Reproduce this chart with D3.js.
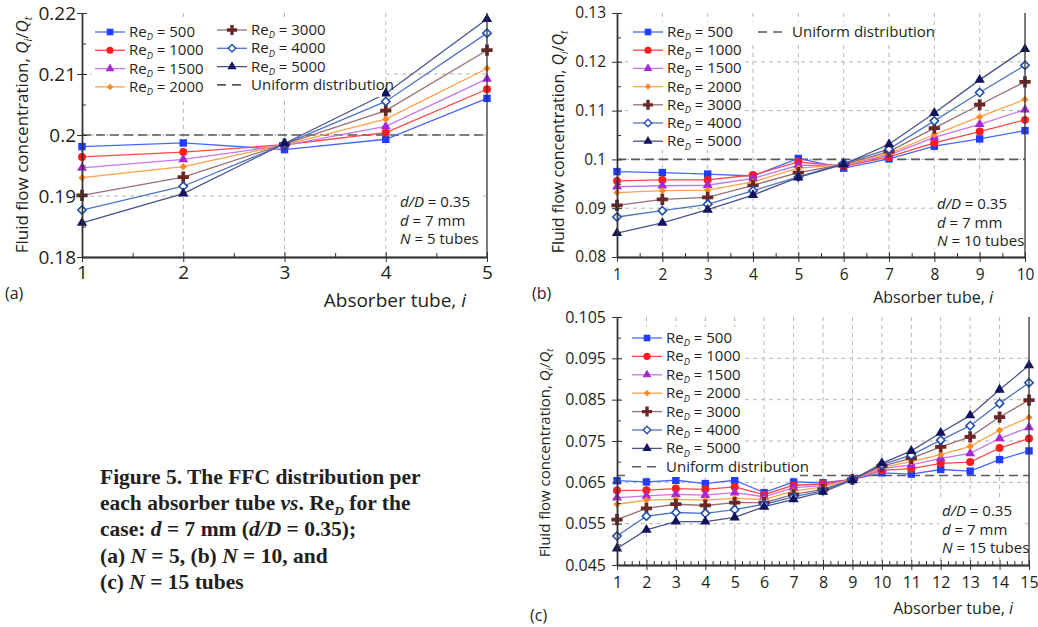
<!DOCTYPE html>
<html>
<head>
<meta charset="utf-8">
<script src="https://cdn.jsdelivr.net/npm/d3@7"></script>
<style>
body { margin: 0; background: #fff; }
text { font-family: "Open Sans", sans-serif; fill: #231f20; }
</style>
</head>
<body>
<script>
// values
var reynolds = [500, 1000, 1500, 2000, 3000, 4000, 5000];

var tubesA = [1, 2, 3, 4, 5];
var ffcA = [
  [0.1981, 0.1987, 0.1976, 0.1993, 0.2060],
  [0.1964, 0.1972, 0.1984, 0.2004, 0.2075],
  [0.1946, 0.1960, 0.1983, 0.2014, 0.2092],
  [0.1930, 0.1948, 0.1984, 0.2026, 0.2109],
  [0.1901, 0.1931, 0.1985, 0.2040, 0.2139],
  [0.1877, 0.1916, 0.1985, 0.2055, 0.2167],
  [0.1856, 0.1904, 0.1986, 0.2068, 0.2190]
];

var tubesB = [1, 2, 3, 4, 5, 6, 7, 8, 9, 10];
var ffcB = [
  [0.0975, 0.0973, 0.0970, 0.0966, 0.1002, 0.0982, 0.1001, 0.1027, 0.1042, 0.1059],
  [0.0956, 0.0958, 0.0958, 0.0968, 0.0995, 0.0986, 0.1005, 0.1034, 0.1057, 0.1081],
  [0.0944, 0.0946, 0.0947, 0.0961, 0.0988, 0.0988, 0.1009, 0.1045, 0.1072, 0.1102],
  [0.0932, 0.0936, 0.0937, 0.0954, 0.0982, 0.0989, 0.1012, 0.1051, 0.1087, 0.1123],
  [0.0906, 0.0918, 0.0922, 0.0947, 0.0973, 0.0990, 0.1016, 0.1064, 0.1112, 0.1159],
  [0.0882, 0.0895, 0.0908, 0.0936, 0.0964, 0.0992, 0.1021, 0.1079, 0.1137, 0.1193],
  [0.0849, 0.0870, 0.0897, 0.0927, 0.0963, 0.0990, 0.1031, 0.1095, 0.1163, 0.1226]
];

var tubesC = [1, 2, 3, 4, 5, 6, 7, 8, 9, 10, 11, 12, 13, 14, 15];
var ffcC = [
  [0.0654, 0.0651, 0.0655, 0.0647, 0.0655, 0.0625, 0.0651, 0.0649, 0.0657, 0.0673, 0.0670, 0.0681, 0.0677, 0.0705, 0.0726],
  [0.0630, 0.0631, 0.0635, 0.0633, 0.0639, 0.0620, 0.0643, 0.0646, 0.0657, 0.0679, 0.0683, 0.0696, 0.0699, 0.0733, 0.0756],
  [0.0613, 0.0617, 0.0621, 0.0619, 0.0625, 0.0615, 0.0637, 0.0642, 0.0657, 0.0683, 0.0692, 0.0708, 0.0720, 0.0756, 0.0783],
  [0.0597, 0.0607, 0.0609, 0.0607, 0.0611, 0.0609, 0.0629, 0.0639, 0.0657, 0.0686, 0.0700, 0.0717, 0.0737, 0.0776, 0.0807],
  [0.0560, 0.0587, 0.0597, 0.0594, 0.0601, 0.0601, 0.0621, 0.0633, 0.0657, 0.0689, 0.0708, 0.0736, 0.0760, 0.0808, 0.0849],
  [0.0520, 0.0568, 0.0577, 0.0575, 0.0584, 0.0597, 0.0615, 0.0630, 0.0657, 0.0693, 0.0716, 0.0752, 0.0787, 0.0841, 0.0891],
  [0.0490, 0.0535, 0.0555, 0.0555, 0.0565, 0.0591, 0.0609, 0.0627, 0.0655, 0.0696, 0.0726, 0.0770, 0.0812, 0.0874, 0.0933]
];

var yTicksA = [0.18, 0.19, 0.2, 0.21, 0.22];
var yTicksB = [0.08, 0.09, 0.1, 0.11, 0.12, 0.13];
var yTicksC = [0.045, 0.055, 0.065, 0.075, 0.085, 0.095, 0.105];

var markerColors = ['#1f3cff', '#ff1c1c', '#a626d8', '#ff8a1f', '#6b2626', '#1f4fae', '#12125e'];
var lineColors = ['#4a66ff', '#ff4646', '#c774ee', '#ffa047', '#9a6e6e', '#4f74c2', '#4b5386'];
var shapes = [d3.symbolSquare, d3.symbolCircle, d3.symbolTriangle, d3.symbolDiamond2,
              d3.symbolCross, d3.symbolDiamond2, d3.symbolTriangle];
var sizes = [55, 50, 42, 34, 70, 44, 46];

var svg = d3.select("body").append("svg")
  .attr("width", 1038)
  .attr("height", 627);

// text with italic / subscript parts, subscript shift is undone on the next part
function rich(sel, parts, size) {
  var back = 0;
  parts.forEach(function(p) {
    var t = sel.append("tspan").text(p[0]);
    if (back) { t.attr("dy", back); back = 0; }
    if (p[1] == "i") t.style("font-style", "italic");
    if (p[1] == "is") {
      t.style("font-style", "italic").attr("font-size", size * 0.62).attr("dy", size * 0.22);
      back = -size * 0.22;
    }
  });
}

function drawPanel(p) {
  var g = svg.append("g");
  var x = d3.scaleLinear().domain([1, p.tubes.length]).range([p.left, p.right]);
  var y = d3.scaleLinear().domain([p.yTicks[0], p.yTicks[p.yTicks.length - 1]]).range([p.bottom, p.top]);

  // grid
  g.selectAll(".vg").data(p.tubes.slice(1, -1)).enter().append("line")
    .attr("x1", function(d) { return x(d) }).attr("x2", function(d) { return x(d) })
    .attr("y1", p.top).attr("y2", p.bottom)
    .attr("stroke", "#b4b4b4").attr("stroke-dasharray", "4,4");
  g.selectAll(".hg").data(p.yTicks.slice(1, -1)).enter().append("line")
    .attr("x1", p.left).attr("x2", p.right)
    .attr("y1", function(d) { return y(d) }).attr("y2", function(d) { return y(d) })
    .attr("stroke", "#b4b4b4").attr("stroke-dasharray", "4,4");

  // uniform distribution
  g.append("line")
    .attr("x1", p.left).attr("x2", p.right)
    .attr("y1", y(p.uniform)).attr("y2", y(p.uniform))
    .attr("stroke", "#5a5a5a").attr("stroke-width", 1.6).attr("stroke-dasharray", "9,5");

  var line = d3.line()
    .x(function(d, i) { return x(p.tubes[i]) })
    .y(function(d) { return y(d) });

  p.ffc.forEach(function(vals, k) {
    g.append("path").datum(vals)
      .attr("d", line)
      .attr("fill", "none")
      .attr("stroke", lineColors[k])
      .attr("stroke-width", 1.3);
  });
  p.ffc.forEach(function(vals, k) {
    g.selectAll(".m" + k).data(vals).enter().append("path")
      .attr("transform", function(d, i) { return "translate(" + x(p.tubes[i]) + "," + y(d) + ")" })
      .attr("d", d3.symbol().type(shapes[k]).size(sizes[k]))
      .attr("fill", k == 5 ? "#fff" : markerColors[k])
      .attr("stroke", k == 5 ? markerColors[k] : "none")
      .attr("stroke-width", 1.6);
  });

  // legend
  p.legendBoxes.forEach(function(b) {
    g.append("rect").attr("x", b[0]).attr("y", b[1]).attr("width", b[2]).attr("height", b[3]).attr("fill", "#fff");
  });
  p.legend.forEach(function(col) {
    col.items.forEach(function(k, j) {
      var ly = col.y + j * col.dy;
      if (k == "u") {
        g.append("line").attr("x1", col.x).attr("x2", col.x + 27).attr("y1", ly).attr("y2", ly)
          .attr("stroke", "#5a5a5a").attr("stroke-width", 1.6).attr("stroke-dasharray", "9,6");
        g.append("text").attr("x", col.x + 34).attr("y", ly + 5).attr("font-size", 15)
          .text("Uniform distribution");
        return;
      }
      g.append("line").attr("x1", col.x).attr("x2", col.x + 30).attr("y1", ly).attr("y2", ly)
        .attr("stroke", lineColors[k]).attr("stroke-width", 1.3);
      g.append("path").attr("transform", "translate(" + (col.x + 15) + "," + ly + ")")
        .attr("d", d3.symbol().type(shapes[k]).size(sizes[k] * 0.8))
        .attr("fill", k == 5 ? "#fff" : markerColors[k])
        .attr("stroke", k == 5 ? markerColors[k] : "none").attr("stroke-width", 1.4);
      var t = g.append("text").attr("x", col.x + 34).attr("y", ly + 5).attr("font-size", 15);
      rich(t, [["Re"], ["D", "is"], [" = " + reynolds[k]]], 15);
    });
  });

  // case annotation
  g.append("rect").attr("x", p.note[0] - 3).attr("y", p.note[1] - 17).attr("width", 86).attr("height", 56).attr("fill", "#fff");
  var notes = [[["d/D", "i"], [" = 0.35"]], [["d", "i"], [" = 7 mm"]], [["N", "i"], [" = " + p.tubes.length + " tubes"]]];
  notes.forEach(function(n, j) {
    var t = g.append("text").attr("x", p.note[0]).attr("y", p.note[1] + j * 18.5).attr("font-size", 15);
    rich(t, n, 15);
  });

  // axes
  var yfmt = function(d) { return String(+d.toFixed(3)) };
  var minorY = d3.range(p.yTicks[0] + (p.yTicks[1] - p.yTicks[0]) / 2, p.yTicks[p.yTicks.length - 1], p.yTicks[1] - p.yTicks[0]);
  var minorX = d3.range(1, p.tubes.length, p.minorStep).filter(function(d) { return d % 1 != 0 });

  var ya = g.append("g").attr("transform", "translate(" + p.left + ",0)")
    .call(d3.axisLeft(y).tickValues(p.yTicks).tickFormat(yfmt).tickSize(5).tickSizeOuter(0).tickPadding(p.yPad));
  g.append("g").attr("transform", "translate(" + p.left + ",0)")
    .call(d3.axisLeft(y).tickValues(p.yTicks).tickFormat("").tickSize(-5).tickSizeOuter(0));
  g.append("g").attr("transform", "translate(" + p.left + ",0)")
    .call(d3.axisLeft(y).tickValues(minorY).tickFormat("").tickSize(-4).tickSizeOuter(0));

  var xa = g.append("g").attr("transform", "translate(0," + p.bottom + ")")
    .call(d3.axisBottom(x).tickValues(p.tubes).tickFormat(d3.format("d")).tickSize(5).tickSizeOuter(0).tickPadding(p.xPad));
  g.append("g").attr("transform", "translate(0," + p.bottom + ")")
    .call(d3.axisBottom(x).tickValues(p.tubes).tickFormat("").tickSize(-5).tickSizeOuter(0));
  g.append("g").attr("transform", "translate(0," + p.bottom + ")")
    .call(d3.axisBottom(x).tickValues(minorX).tickFormat("").tickSize(-4).tickSizeOuter(0));

  g.append("line").attr("x1", p.right).attr("x2", p.right).attr("y1", p.top).attr("y2", p.bottom)
    .attr("stroke", "#333").attr("stroke-width", 1.3);

  g.selectAll(".domain").attr("stroke", "#333").attr("stroke-width", 1.3);
  g.selectAll(".tick line").attr("stroke", "#333");
  g.selectAll(".tick text").filter(function() { return this.textContent == "" }).remove();
  ya.selectAll("text").attr("font-size", p.tickFont).attr("font-family", "Open Sans").attr("fill", "#231f20");
  xa.selectAll("text").attr("font-size", p.tickFont).attr("font-family", "Open Sans").attr("fill", "#231f20");

  // axis titles
  var yt = g.append("text")
    .attr("transform", "translate(" + p.yTitle[0] + "," + p.yTitle[1] + ") rotate(-90)")
    .attr("text-anchor", "middle").attr("font-size", p.yTitleFont);
  rich(yt, [["Fluid flow concentration, "], ["Q", "i"], ["i", "is"], ["/"], ["Q", "i"], ["t", "is"]], p.yTitleFont);

  var xt = g.append("text").attr("x", p.xTitle[0]).attr("y", p.xTitle[1])
    .attr("text-anchor", "end").attr("font-size", p.xTitleFont);
  rich(xt, [["Absorber tube, "], ["i", "i"]], p.xTitleFont);

  g.append("text").attr("x", p.tag[0]).attr("y", p.tag[1]).attr("font-size", 16).text("(" + p.id + ")");
}

drawPanel({
  id: "a", tubes: tubesA, ffc: ffcA, uniform: 1 / 5, yTicks: yTicksA, minorStep: 0.5,
  left: 82, right: 487, top: 13, bottom: 257,
  tickFont: 19, yPad: 1, xPad: 4,
  yTitle: [28, 135], yTitleFont: 17, xTitle: [466, 307], xTitleFont: 19, tag: [5, 299],
  legendBoxes: [[92, 20, 290, 77]],
  legend: [{ x: 95, y: 32, dy: 18.3, items: [0, 1, 2, 3] }, { x: 217, y: 30, dy: 18.3, items: [4, 5, 6, "u"] }],
  note: [400, 207]
});

drawPanel({
  id: "b", tubes: tubesB, ffc: ffcB, uniform: 1 / 10, yTicks: yTicksB, minorStep: 0.5,
  left: 617, right: 1025, top: 13, bottom: 257,
  tickFont: 15.5, yPad: 6, xPad: 7,
  yTitle: [564, 142], yTitleFont: 16, xTitle: [993, 303], xTitleFont: 16, tag: [532, 299],
  legendBoxes: [[628, 22, 117, 128], [752, 22, 170, 20]],
  legend: [{ x: 633, y: 32, dy: 18.2, items: [0, 1, 2, 3, 4, 5, 6] }, { x: 758, y: 32, dy: 18, items: ["u"] }],
  note: [937, 209]
});

drawPanel({
  id: "c", tubes: tubesC, ffc: ffcC, uniform: 1 / 15, yTicks: yTicksC, minorStep: 0.25,
  left: 617, right: 1029, top: 317, bottom: 565,
  tickFont: 16, yPad: 6, xPad: 7,
  yTitle: [550, 453], yTitleFont: 15, xTitle: [1013, 614], xTitleFont: 16, tag: [530, 621],
  legendBoxes: [[625, 327, 120, 130], [625, 457, 175, 20]],
  legend: [{ x: 632, y: 338, dy: 18.4, items: [0, 1, 2, 3, 4, 5, 6, "u"] }],
  note: [942, 516]
});

// caption
var capLines = [
  [["Figure 5. The FFC distribution per"]],
  [["each absorber tube "], ["vs", "i"], [". Re"], ["D", "is"], [" for the"]],
  [["case: "], ["d", "i"], [" = 7 mm ("], ["d/D", "i"], [" = 0.35);"]],
  [["(a) "], ["N", "i"], [" = 5, (b) "], ["N", "i"], [" = 10, and"]],
  [["(c) "], ["N", "i"], [" = 15 tubes"]]
];
capLines.forEach(function(parts, j) {
  var t = svg.append("text").attr("x", 100).attr("y", 484 + j * 26.2)
    .attr("font-size", 21.5).attr("font-weight", "bold")
    .style("font-family", "'Liberation Serif', 'DejaVu Serif', serif");
  rich(t, parts, 21.5);
});
</script>
</body>
</html>
